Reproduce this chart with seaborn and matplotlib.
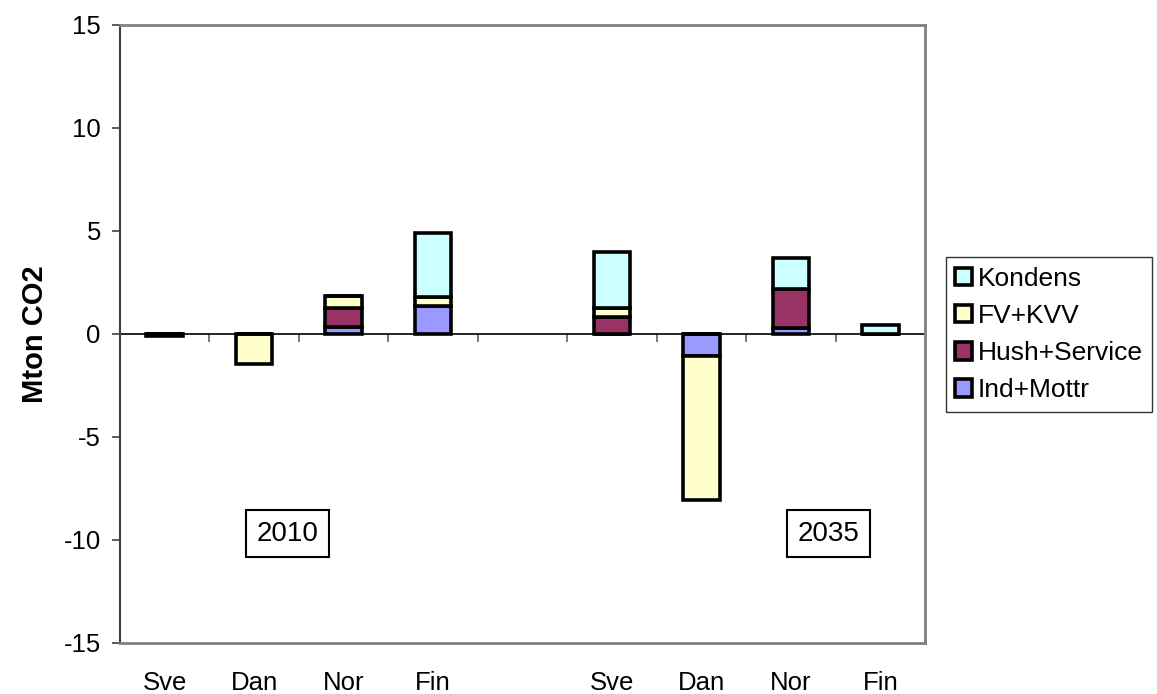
import numpy as np
import pandas as pd
import matplotlib
matplotlib.use("Agg")
import matplotlib.pyplot as plt
import seaborn as sns

# slots along the x axis, the 5th one is an empty gap between the two years
slot_ids = ["s0", "s1", "s2", "s3", "s4", "s5", "s6", "s7", "s8"]
slot_labels = ["Sve", "Dan", "Nor", "Fin", "", "Sve", "Dan", "Nor", "Fin"]
used_slots = ["s0", "s1", "s2", "s3", "s5", "s6", "s7", "s8"]

# Mton CO2 per sector (stacked bottom -> top)
ind_mottr = [-0.08, 0.0, 0.34, 1.34, 0.0, -1.05, 0.29, 0.0]
hush_service = [0.0, 0.0, 0.92, 0.0, 0.83, 0.0, 1.89, 0.0]
fv_kvv = [0.0, -1.45, 0.60, 0.46, 0.43, -7.03, 0.0, 0.0]
kondens = [0.0, 0.0, 0.0, 3.10, 2.72, 0.0, 1.50, 0.44]

series = ["Ind+Mottr", "Hush+Service", "FV+KVV", "Kondens"]
colors = ["#9999FF", "#993366", "#FFFFCC", "#CCFFFF"]
year_labels = ["2010", "2035"]

df = pd.DataFrame({"slot": used_slots, "Ind+Mottr": ind_mottr,
                   "Hush+Service": hush_service, "FV+KVV": fv_kvv,
                   "Kondens": kondens})

sns.set_style("white")
plt.rcParams["font.family"] = ["Liberation Sans", "DejaVu Sans"]
plt.rcParams["axes.unicode_minus"] = False
plt.rcParams["text.color"] = "black"
plt.rcParams["axes.labelcolor"] = "black"

fig = plt.figure(figsize=(11.57, 6.94), dpi=100)
ax = fig.add_axes([0.1037, 0.0735, 0.6958, 0.8905])

pos_cum = np.zeros(len(used_slots))
neg_cum = np.zeros(len(used_slots))
for name, col in zip(series, colors):
    v = df[name].to_numpy()
    bottom = np.where(v >= 0, pos_cum, neg_cum)
    sns.barplot(data=df, x="slot", y=name, order=slot_ids, bottom=bottom,
                color=col, edgecolor="black", linewidth=2.6, width=0.41,
                saturation=1, label=name, ax=ax)
    pos_cum += np.where(v >= 0, v, 0)
    neg_cum += np.where(v < 0, v, 0)

handles, labels = ax.get_legend_handles_labels()
if ax.get_legend() is not None:
    ax.get_legend().remove()

ax.set_ylim(-15, 15)
ax.set_xlim(-0.5, 8.5)
ax.set_yticks(np.arange(-15, 16, 5))
ax.set_xticks(range(len(slot_ids)), labels=slot_labels)
ax.tick_params(axis="x", length=0, pad=20, labelsize=18.5, labelcolor="black")
ax.tick_params(axis="y", left=True, length=5.8, width=1.2, color="#404040",
               labelsize=18.5, pad=8, labelcolor="black")
ax.set_xlabel("")
ax.set_ylabel("Mton CO2", fontsize=21, fontweight="bold")
ax.yaxis.set_label_coords(-0.088, 0.5)

for side in ["top", "right", "bottom"]:
    ax.spines[side].set_color("#808080")
    ax.spines[side].set_linewidth(2)
ax.spines["left"].set_color("#404040")
ax.spines["left"].set_linewidth(1.5)

# category axis crossing at zero with tick marks between groups
zero_ax = ax.secondary_xaxis(0.5)
zero_ax.set_xticks(np.arange(0.5, 8.5, 1.0), labels=[])
zero_ax.tick_params(axis="x", direction="in", length=5.8, width=1.2,
                    color="#606060")
zero_ax.spines["bottom"].set_color("black")
zero_ax.spines["bottom"].set_linewidth(1.2)
zero_ax.spines["top"].set_color("black")
zero_ax.spines["top"].set_linewidth(1.2)

# year boxes
for xpos, txt in zip([1.37, 7.42], year_labels):
    ax.text(xpos, -9.7, txt, ha="center", va="center", fontsize=20,
            bbox=dict(boxstyle="square,pad=0.38", facecolor="white",
                      edgecolor="black", linewidth=1.5))

leg = fig.legend(handles[::-1], labels[::-1], loc="center left",
                 bbox_to_anchor=(946 / 1157, (694 - 334.5) / 694),
                 fontsize=19, frameon=True, fancybox=False,
                 edgecolor="black", handlelength=0.65, handleheight=0.65,
                 handletextpad=0.2, labelspacing=0.5, borderpad=0.35,
                 borderaxespad=0)
leg.get_frame().set_linewidth(1.0)

fig.savefig("out.png", dpi=100, facecolor="white")
